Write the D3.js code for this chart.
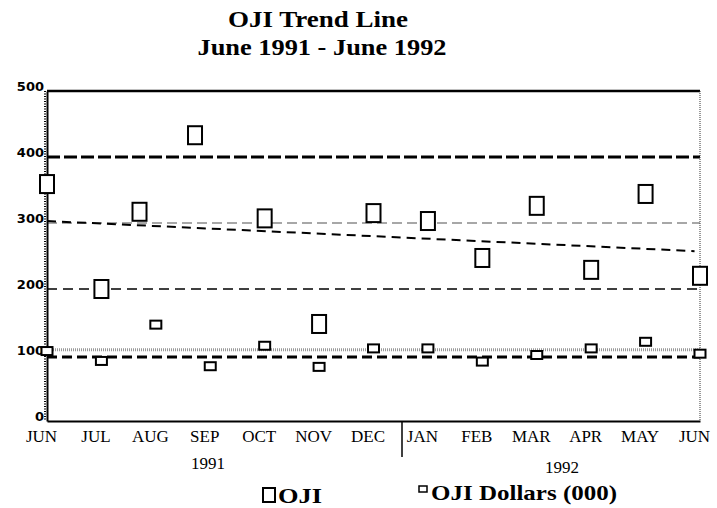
<!DOCTYPE html>
<html>
<head>
<meta charset="utf-8">
<script src="https://cdn.jsdelivr.net/npm/d3@7"></script>
<style>
  body { margin: 0; background: #fff; }
  svg { display: block; }
</style>
</head>
<body>
<div class="main"></div>
<script>
const width = 717;
const height = 508;

// month labels along the bottom
const months = ["JUN", "JUL", "AUG", "SEP", "OCT", "NOV", "DEC", "JAN", "FEB", "MAR", "APR", "MAY", "JUN"];
const yearLabels = ["1991", "1992"];
const yTicks = [0, 100, 200, 300, 400, 500];

// OJI (large squares) - month position and value
const ojiPos = [0, 1, 1.7, 2.72, 4, 5, 6, 7, 8, 9, 10, 11, 12];
const ojiValues = [359, 200, 317, 433, 307, 147, 315, 303, 247, 326, 229, 344, 220];

// OJI Dollars (000) (small squares)
const dollarPos = [0, 1, 2, 3, 4, 5, 6, 7, 8, 9, 10, 11, 12];
const dollarValues = [106, 91, 146, 83, 114, 82, 110, 110, 90, 100, 110, 120, 102];

// horizontal reference lines
const upperLimit = 400;
const ojiMean = 300;
const lowerLimit = 200;
const dollarMean = 108;
const dollarLower = 97;

// trend line end points
const trendStart = 303;
const trendEnd = 257;

const x = d3.scaleLinear().domain([0, 12]).range([47, 700]);
const y = d3.scaleLinear().domain([0, 500]).range([421, 91]);

const svg = d3.select(".main").append("svg")
  .attr("width", width)
  .attr("height", height)
  .attr("viewBox", [0, 0, width, height]);

// Title
const title = svg.append("g")
  .attr("font-family", "Liberation Serif")
  .attr("font-weight", "bold")
  .attr("font-size", 23)
  .attr("text-anchor", "middle");
title.append("text").attr("x", 318).attr("y", 27)
  .attr("textLength", 180).attr("lengthAdjust", "spacingAndGlyphs")
  .text("OJI Trend Line");
title.append("text").attr("x", 322).attr("y", 55)
  .attr("textLength", 249).attr("lengthAdjust", "spacingAndGlyphs")
  .text("June 1991 - June 1992");

// reference lines
function hline(v, stroke, sw, dash) {
  svg.append("line")
    .attr("x1", x(0)).attr("x2", x(12))
    .attr("y1", y(v)).attr("y2", y(v))
    .attr("stroke", stroke)
    .attr("stroke-width", sw)
    .attr("stroke-dasharray", dash);
}
hline(upperLimit, "#000", 3, "13,4");
hline(ojiMean, "#8a8a8a", 1.5, "10,5");
hline(lowerLimit, "#000", 1.5, "10,6");
hline(dollarMean, "#999", 3, "1,1");
hline(dollarLower, "#000", 3, "10,5");

// trend
svg.append("line")
  .attr("x1", x(0)).attr("x2", x(11.9))
  .attr("y1", y(trendStart)).attr("y2", y(trendStart + (trendEnd - trendStart) * 11.9 / 12))
  .attr("stroke", "#000")
  .attr("stroke-width", 2)
  .attr("stroke-dasharray", "9,6");

// frame
svg.append("line")
  .attr("x1", x(0)).attr("x2", x(12))
  .attr("y1", y(500)).attr("y2", y(500))
  .attr("stroke", "#000").attr("stroke-width", 2.5);
svg.append("line")
  .attr("x1", x(12)).attr("x2", x(12))
  .attr("y1", y(500)).attr("y2", y(0))
  .attr("stroke", "#333").attr("stroke-width", 1)
  .attr("stroke-dasharray", "1,1");

// x axis
const xAxis = svg.append("g")
  .attr("transform", `translate(0,${y(0)})`)
  .call(d3.axisBottom(x).tickValues(d3.range(13)).tickSize(0).tickFormat((d) => months[d]));
xAxis.select(".domain").attr("stroke", "#000").attr("stroke-width", 2);
xAxis.selectAll("text")
  .attr("font-family", "Liberation Serif")
  .attr("font-size", 17)
  .attr("fill", "#000")
  .attr("dx", -6)
  .attr("dy", "1.05em");

// year divider
svg.append("line")
  .attr("x1", 402).attr("x2", 402)
  .attr("y1", y(0)).attr("y2", 457)
  .attr("stroke", "#000").attr("stroke-width", 1.5);

svg.append("g")
  .attr("font-family", "Liberation Serif")
  .attr("font-size", 17)
  .attr("text-anchor", "middle")
  .selectAll("text")
  .data(yearLabels)
  .join("text")
    .attr("x", (_, i) => [208, 562][i])
    .attr("y", (_, i) => [469, 473][i])
    .text((d) => d);

// y axis
const yAxis = svg.append("g")
  .attr("transform", `translate(${x(0)},0)`)
  .call(d3.axisLeft(y).tickValues(yTicks).tickSize(0).tickPadding(3));
yAxis.select(".domain").attr("stroke", "#000").attr("stroke-width", 2);
yAxis.selectAll("text")
  .attr("font-family", "DejaVu Sans")
  .attr("font-weight", "bold")
  .attr("font-size", 13)
  .attr("fill", "#000")
  .attr("dy", "-0.05em");
// ruler ticks on the axis
svg.append("line")
  .attr("x1", x(0) - 2).attr("x2", x(0) - 2)
  .attr("y1", y(500)).attr("y2", y(0))
  .attr("stroke", "#000").attr("stroke-width", 2)
  .attr("stroke-dasharray", "1,1.5");

// OJI Dollars small squares
svg.append("g")
  .selectAll("rect")
  .data(dollarValues)
  .join("rect")
    .attr("x", (_, i) => x(dollarPos[i]) - 5.5)
    .attr("y", (d) => y(d) - 4)
    .attr("width", 11)
    .attr("height", 8)
    .attr("fill", "#fff")
    .attr("stroke", "#000")
    .attr("stroke-width", 2);

// OJI large squares
svg.append("g")
  .selectAll("rect")
  .data(ojiValues)
  .join("rect")
    .attr("x", (_, i) => x(ojiPos[i]) - 7)
    .attr("y", (d) => y(d) - 9)
    .attr("width", 14)
    .attr("height", 18)
    .attr("fill", "#fff")
    .attr("stroke", "#000")
    .attr("stroke-width", 2);

// Legend
const legend = svg.append("g")
  .attr("font-family", "Liberation Serif")
  .attr("font-weight", "bold")
  .attr("font-size", 22);
legend.append("rect")
  .attr("x", 263).attr("y", 488).attr("width", 12).attr("height", 14)
  .attr("fill", "#fff").attr("stroke", "#000").attr("stroke-width", 2);
legend.append("text").attr("x", 278).attr("y", 503)
  .attr("textLength", 44).attr("lengthAdjust", "spacingAndGlyphs")
  .text("OJI");
legend.append("rect")
  .attr("x", 419).attr("y", 486).attr("width", 8).attr("height", 6)
  .attr("fill", "#fff").attr("stroke", "#000").attr("stroke-width", 1.5);
legend.append("text").attr("x", 431).attr("y", 500)
  .attr("textLength", 186).attr("lengthAdjust", "spacingAndGlyphs")
  .text("OJI Dollars (000)");
</script>
</body>
</html>
